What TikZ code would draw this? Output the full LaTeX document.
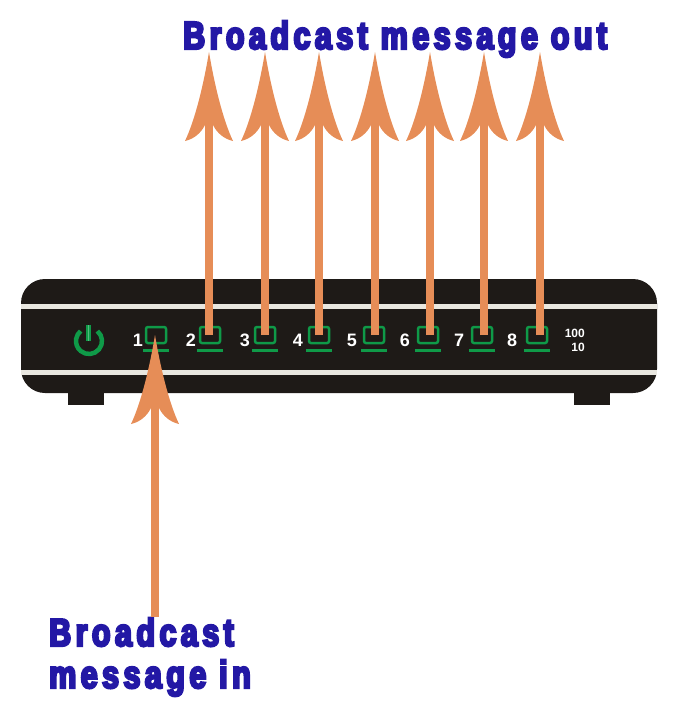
\documentclass[tikz,border=0pt]{standalone}
\usepackage{fontspec}
\setmainfont{Liberation Sans}
\newfontfamily\bannerfont[FakeStretch=0.78,LetterSpace=11.5,FakeBold=6]{Liberation Sans Bold}
\newfontfamily\panelfont{Liberation Sans Bold}
\definecolor{flowcol}{HTML}{E68D57}
\definecolor{ledcol}{HTML}{0F9A48}
\definecolor{bodycol}{HTML}{1E1A17}
\definecolor{stripecol}{HTML}{E9E7E0}
\definecolor{bannercol}{HTML}{2318A5}
% Spire-shaped arrowhead: concave flanks and swept-back barbs
\pgfdeclarearrow{
  name=Spire,
  setup code={
    \pgfarrowssettipend{0pt}
    \pgfarrowssetlineend{-60pt}
    \pgfarrowssetbackend{-89pt}
    \pgfarrowssetvisualbackend{-73pt}
  },
  drawing code={
    \pgfpathmoveto{\pgfpoint{0pt}{0pt}}
    \pgfpathcurveto{\pgfpoint{-33pt}{5.5pt}}{\pgfpoint{-68pt}{14pt}}{\pgfpoint{-89pt}{24pt}}
    \pgfpathcurveto{\pgfpoint{-87pt}{15pt}}{\pgfpoint{-81pt}{8pt}}{\pgfpoint{-73pt}{4pt}}
    \pgfpathlineto{\pgfpoint{-73pt}{-4pt}}
    \pgfpathcurveto{\pgfpoint{-81pt}{-8pt}}{\pgfpoint{-87pt}{-15pt}}{\pgfpoint{-89pt}{-24pt}}
    \pgfpathcurveto{\pgfpoint{-68pt}{-14pt}}{\pgfpoint{-33pt}{-5.5pt}}{\pgfpoint{0pt}{0pt}}
    \pgfpathclose
    \pgfsetfillcolor{flowcol}
    \pgfusepathqfill
  }
}
\tikzset{
  flow/.style={draw=flowcol,line width=8pt,-{Spire}},
  led/.style={draw=ledcol,line width=2.5pt,rounded corners=2pt,minimum width=20pt,minimum height=16pt,inner sep=0pt},
  ledbar/.style={draw=ledcol,line width=2.6pt},
  digit/.style={text=white,inner sep=0pt,font=\panelfont\fontsize{18}{20}\selectfont},
  speed/.style={text=white,inner sep=0pt,anchor=base east,font=\panelfont\fontsize{12}{13}\selectfont},
  banner/.style={text=bannercol,inner sep=0pt,anchor=base west,font=\bannerfont\fontsize{39}{44}\selectfont},
  stripe/.style={fill=stripecol,draw=none},
  bodypart/.style={fill=bodycol,draw=none}
}
\begin{document}
\begin{tikzpicture}[x=1pt,y=-1pt]
\useasboundingbox (0,0) rectangle (690,720);
% Feet and casing
\fill[bodypart] (68,385) rectangle (104,405);
\fill[bodypart] (574,385) rectangle (610,405);
\fill[bodypart,rounded corners=24pt] (21,279) rectangle (657,393);
\fill[stripe] (21,304) rectangle (657,309);
\fill[stripe] (21,369.5) rectangle (657,374.5);
% Power symbol
\draw[ledcol,line width=4.5pt] (89,341) ++(-50:13) arc[start angle=-50,end angle=230,radius=13];
\coordinate (powertop) at (88.5,325);
\coordinate (powerend) at (88.5,341);
\draw[ledcol,line width=4.5pt] (powertop) -- (powerend);
\draw[ledcol!70!white,line width=1.8pt] (powertop) -- (powerend);
% Port LEDs with their numbers
\foreach \n/\lx/\dx in {1/156/138,2/210/191,3/265/245,4/319/298,5/374/352,6/428/405,7/482/459,8/537/512}{
  \node[led] (led\n) at (\lx,335) {};
  \draw[ledbar] ([xshift=-2pt,yshift=-6pt]led\n.south west) -- ([xshift=2pt,yshift=-6pt]led\n.south east);
  \node[digit] (num\n) at (\dx,340) {\n};
}
\node[speed] (speedhi) at (585,337) {100};
\node[speed] (speedlo) at (585,351) {10};
% Captions
\node[banner] (outlabel) at (183,49) {Broadcast message out};
\node[banner] (inlabela) at (49,646) {Broadcast};
\node[banner] (inlabelb) at (49,688) {message in};
% Message flow
\foreach \n/\ax in {2/209,3/265,4/319,5/375,6/430,7/484,8/540}{
  \coordinate (tip\n) at (\ax,52);
  \draw[flow] (tip\n |- led\n.center) -- (tip\n);
}
\coordinate (source) at (155,617);
\draw[flow] (source) -- (source |- led1.center);
\end{tikzpicture}
\end{document}
